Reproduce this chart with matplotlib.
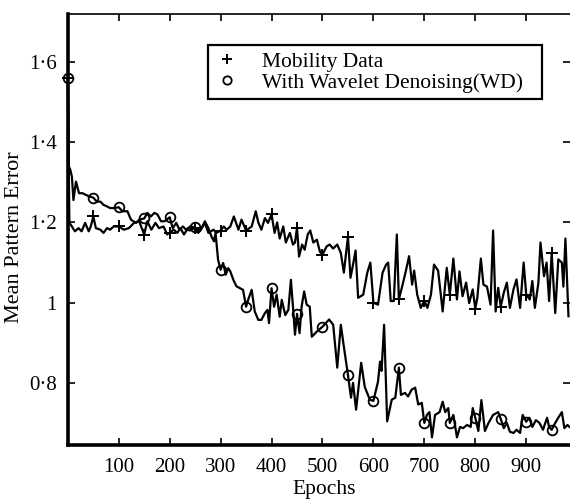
import numpy as np
import matplotlib
matplotlib.use("Agg")
import matplotlib.pyplot as plt
from matplotlib.ticker import FuncFormatter
from matplotlib.lines import Line2D

plt.rcParams['font.family'] = ['Liberation Serif', 'DejaVu Serif']

# Mobility Data (noisy curve, "+" markers every 50 epochs)
mob_epochs = [0, 3, 8, 14, 21, 27, 34, 41, 45, 50, 55, 64, 70, 77, 83, 90, 100, 110, 120, 130,
              140, 150, 156, 164, 172, 179, 188, 195, 200, 208, 215, 221, 228, 234, 240, 250,
              259, 269, 276, 286, 292, 300, 306, 312, 319, 326, 335, 341, 350, 361, 369, 374,
              380, 387, 393, 400, 406, 411, 416, 423, 428, 436, 442, 446, 450, 454, 460, 465,
              471, 476, 482, 489, 495, 500, 508, 514, 521, 529, 536, 542, 550, 555, 560, 565,
              570, 580, 588, 594, 600, 609, 618, 625, 629, 634, 640, 646, 650, 655, 663, 670,
              676, 680, 686, 693, 700, 706, 713, 719, 727, 736, 744, 750, 757, 764, 769, 775,
              782, 788, 795, 800, 804, 811, 816, 823, 830, 835, 840, 845, 850, 856, 862, 868,
              875, 881, 888, 895, 900, 907, 912, 917, 924, 928, 935, 940, 945, 950, 957, 963,
              970, 973, 977, 983]
mob_error = [1.56, 1.20, 1.19, 1.178, 1.186, 1.178, 1.199, 1.178, 1.19, 1.215, 1.186, 1.182, 1.174,
             1.186, 1.182, 1.19, 1.19, 1.182, 1.186, 1.199, 1.203, 1.17, 1.203, 1.182, 1.199, 1.186,
             1.19, 1.17, 1.175, 1.182, 1.174, 1.186, 1.17, 1.182, 1.18, 1.187, 1.178, 1.199, 1.174,
             1.182, 1.174, 1.18, 1.19, 1.182, 1.19, 1.215, 1.182, 1.207, 1.18, 1.19, 1.228, 1.20,
             1.182, 1.211, 1.199, 1.22, 1.174, 1.20, 1.16, 1.19, 1.15, 1.174, 1.145, 1.15, 1.187,
             1.115, 1.145, 1.132, 1.17, 1.18, 1.15, 1.157, 1.127, 1.12, 1.14, 1.145, 1.135, 1.145,
             1.124, 1.075, 1.165, 1.062, 1.095, 1.13, 1.012, 1.02, 1.075, 1.10, 1.0, 0.995, 1.075,
             1.095, 1.10, 1.004, 1.004, 1.17, 1.008, 1.033, 1.075, 1.116, 1.045, 1.08, 1.02, 0.987,
             1.005, 0.987, 1.02, 1.095, 1.08, 0.978, 1.087, 1.02, 1.11, 1.008, 1.078, 1.016, 1.05,
             0.999, 1.033, 0.985, 1.012, 1.11, 1.045, 1.04, 0.995, 1.18, 0.978, 1.037, 0.99, 1.025,
             1.05, 0.987, 1.033, 1.058, 0.987, 1.10, 1.02, 1.008, 1.054, 0.987, 1.05, 1.15, 1.066,
             1.10, 1.004, 1.124, 0.974, 1.108, 1.10, 1.04, 1.16, 0.966]

# With Wavelet Denoising (WD), "o" markers every 50 epochs
wd_epochs = [0, 2, 5, 8, 11, 16, 22, 29, 35, 42, 50, 57, 64, 70, 77, 83, 90, 100, 107, 117, 124,
             134, 140, 150, 156, 163, 170, 176, 183, 190, 200, 206, 213, 219, 226, 232, 240, 250,
             256, 263, 269, 276, 282, 287, 290, 295, 300, 305, 310, 315, 319, 325, 331, 338, 344,
             350, 354, 361, 367, 374, 380, 387, 392, 395, 400, 405, 410, 416, 420, 427, 433, 438,
             443, 446, 450, 455, 459, 464, 469, 475, 479, 489, 500, 513, 521, 529, 536, 542, 550,
             556, 560, 566, 576, 583, 593, 600, 609, 613, 616, 621, 627, 636, 643, 650, 654, 662,
             668, 675, 682, 688, 695, 700, 705, 710, 715, 721, 730, 736, 741, 747, 750, 757, 764,
             770, 776, 784, 791, 795, 800, 806, 812, 819, 826, 835, 845, 850, 856, 862, 868, 875,
             881, 888, 893, 900, 906, 912, 919, 926, 933, 941, 945, 950, 957, 963, 970, 975, 981,
             985]
wd_error = [1.56, 1.34, 1.331, 1.314, 1.256, 1.302, 1.273, 1.273, 1.269, 1.265, 1.262, 1.252, 1.252,
            1.244, 1.24, 1.236, 1.236, 1.238, 1.228, 1.228, 1.207, 1.199, 1.207, 1.21, 1.224, 1.215,
            1.224, 1.22, 1.203, 1.203, 1.213, 1.186, 1.199, 1.182, 1.19, 1.182, 1.19, 1.188, 1.174,
            1.186, 1.203, 1.186, 1.165, 1.153, 1.174, 1.107, 1.082, 1.099, 1.07, 1.086, 1.078,
            1.057, 1.041, 1.036, 1.032, 0.99, 1.007, 1.032, 0.978, 0.957, 0.957, 0.974, 0.982,
            0.949, 1.036, 0.99, 1.02, 0.965, 1.007, 0.969, 0.982, 1.057, 0.974, 0.92, 0.972, 0.924,
            0.99, 1.028, 0.995, 0.99, 0.915, 0.928, 0.94, 0.958, 0.945, 0.838, 0.945, 0.89, 0.82,
            0.763, 0.80, 0.733, 0.85, 0.79, 0.758, 0.755, 0.803, 0.853, 0.83, 0.945, 0.704, 0.758,
            0.763, 0.838, 0.77, 0.775, 0.766, 0.783, 0.788, 0.746, 0.75, 0.70, 0.72, 0.727, 0.664,
            0.72, 0.727, 0.753, 0.727, 0.737, 0.70, 0.72, 0.664, 0.69, 0.687, 0.695, 0.69, 0.737,
            0.713, 0.68, 0.757, 0.68, 0.70, 0.72, 0.727, 0.71, 0.687, 0.70, 0.678, 0.675, 0.683,
            0.675, 0.72, 0.703, 0.713, 0.69, 0.707, 0.70, 0.683, 0.713, 0.69, 0.683, 0.70, 0.713,
            0.727, 0.687, 0.695, 0.69]

mark_step = 50

fig = plt.figure(figsize=(5.7, 5.0), dpi=100)
ax = fig.add_axes([0.119, 0.11, 0.881, 0.862])

mob_marks = [i for i, e in enumerate(mob_epochs) if e % mark_step == 0]
wd_marks = [i for i, e in enumerate(wd_epochs) if e % mark_step == 0]

ax.plot(mob_epochs, mob_error, color='black', lw=1.6, marker='+', markersize=9,
        markeredgewidth=1.4, markevery=mob_marks, clip_on=False)
ax.plot(wd_epochs, wd_error, color='black', lw=1.6, marker='o', markersize=7,
        markerfacecolor='none', markeredgewidth=1.3, markevery=wd_marks, clip_on=False)

ax.set_xlim(0, 986)
ax.set_ylim(0.645, 1.72)
ax.set_xticks([100, 200, 300, 400, 500, 600, 700, 800, 900])
ax.set_yticks([0.8, 1.0, 1.2, 1.4, 1.6])
ax.yaxis.set_major_formatter(FuncFormatter(lambda v, p: ('%g' % v).replace('.', '\u00b7')))

ax.tick_params(direction='in', length=5, width=1.2, labelsize=15, pad=8,
               top=True, right=True)
ax.tick_params(axis='x', pad=9)
for s in ['left', 'bottom']:
    ax.spines[s].set_linewidth(2.6)
ax.spines['top'].set_linewidth(1.2)
ax.spines['right'].set_visible(False)

ax.set_xlabel('Epochs', fontsize=15.5)
ax.set_ylabel('Mean Pattern Error', fontsize=16)
ax.xaxis.set_label_coords(0.51, -0.081)
ax.yaxis.set_label_coords(-0.087, 0.483)

handles = [Line2D([], [], color='black', ls='none', marker='+', markersize=7, markeredgewidth=1.4),
           Line2D([], [], color='black', ls='none', marker='o', markersize=6,
                  markerfacecolor='none', markeredgewidth=1.3)]
leg = ax.legend(handles, ['Mobility Data', 'With Wavelet Denoising(WD)'],
                loc='upper left', bbox_to_anchor=(0.279, 0.805, 0.665, 0.123), mode='expand',
                borderaxespad=0, fontsize=15.5, fancybox=False, framealpha=1, edgecolor='black',
                handlelength=1.2, handletextpad=1.0, labelspacing=0.05,
                borderpad=0.3)
leg.get_frame().set_linewidth(1.6)

fig.savefig('out.png', dpi=100)
